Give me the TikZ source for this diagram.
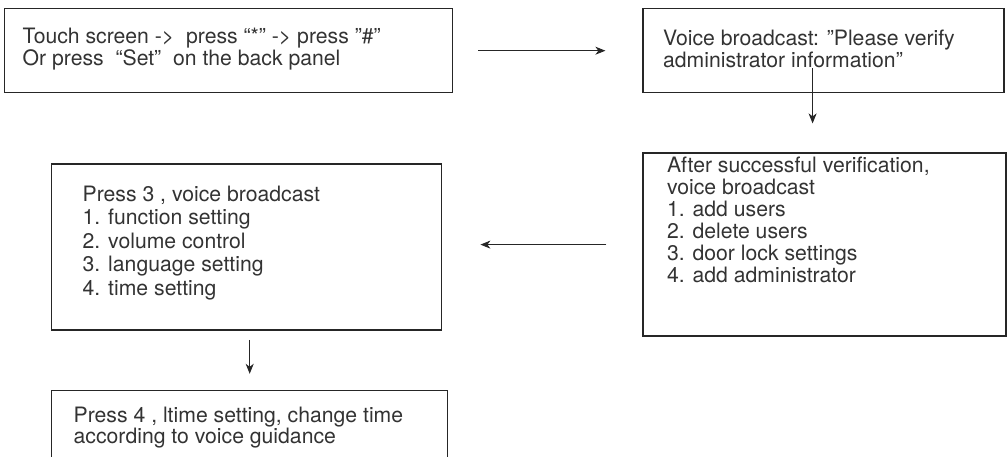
\documentclass[tikz,border=0pt]{standalone}
\usepackage{fontspec}
\setmainfont{TeX Gyre Heros}
\usetikzlibrary{arrows.meta,positioning}

% box text: width, height, first baseline, text
\newcommand{\pasotexto}[4]{\parbox[t][#2][t]{#1}{\rule{0pt}{#3}#4}}

\begin{document}
\begin{tikzpicture}[%
         paso/.style={rectangle,draw=black!85,line width=0.7pt,inner ysep=0pt,anchor=north west,
                      text=black!80,font=\fontsize{10.6pt}{11pt}\selectfont},
         flecha/.style={-{Stealth[length=5pt,width=4pt,inset=1.5pt]},line width=0.5pt,draw=black!85}]
        \useasboundingbox (0,0) rectangle (504pt,-228pt);
        \node [paso,inner xsep=9pt] (touch) at (2pt,-4pt)
              {\pasotexto{206pt}{42pt}{17.5pt}{Touch screen ->\ \ press “*” -> press "\#"\\
               Or press\ \ “Set”\ \ on the back panel}};
        \node [paso,inner xsep=10pt,right=94.5pt of touch.north east,anchor=north west] (verify)
              {\pasotexto{160.5pt}{42pt}{18.5pt}{Voice broadcast: "Please verify\\
               administrator information”}};
        \node [paso,inner xsep=12pt,below=29.5pt of verify.south west,anchor=north west] (success)
              {\pasotexto{157.5pt}{91.5pt}{9.5pt}{After successful verification,\\
               voice broadcast\\ 1. add users\\ 2. delete users\\
               3. door lock settings\\ 4. add administrator}};
        \node [paso,inner xsep=15.5pt,font=\fontsize{10.6pt}{11.8pt}\selectfont,
               below left=5.5pt and 100pt of success.north west,anchor=north east] (menu)
              {\pasotexto{164pt}{83pt}{18.5pt}{Press 3 , voice broadcast\\
               1. function setting\\ 2. volume control\\
               3. language setting\\ 4. time setting}};
        \node [paso,inner xsep=11pt,font=\fontsize{10.6pt}{10.5pt}\selectfont,
               below=29.5pt of menu.south west,anchor=north west] (timeset)
              {\pasotexto{176pt}{41pt}{16pt}{Press 4 , ltime setting, change time\\
               according to voice guidance}};
        \draw [flecha,shorten <=12.5pt,shorten >=18.5pt] (touch.east) -- (verify.west);
        \draw [flecha,shorten <=-12.5pt,shorten >=14.5pt] ([xshift=-5.5pt]verify.south)
              -- ([xshift=-5.5pt]verify.south |- success.north);
        \draw [flecha,shorten <=18pt,shorten >=19pt] (success.west) -- (success.west -| menu.east);
        \draw [flecha,shorten <=4.5pt,shorten >=8pt] ([xshift=1.5pt]menu.south)
              -- ([xshift=1.5pt]menu.south |- timeset.north);
      \end{tikzpicture}
\end{document}
